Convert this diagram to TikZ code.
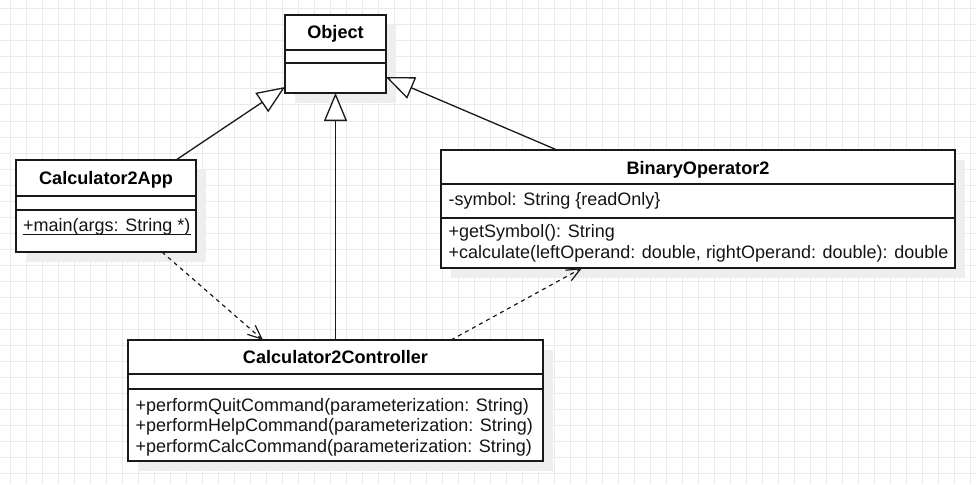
\documentclass[tikz,border=0pt]{standalone}
\usepackage{fontspec}
\setmainfont{Liberation Sans}
\usetikzlibrary{arrows.meta,calc}
\definecolor{gridc}{RGB}{234,234,234}
\definecolor{shadowc}{RGB}{238,238,238}
\definecolor{linec}{RGB}{25,25,25}
\definecolor{textc}{RGB}{20,20,20}
\begin{document}
\begin{tikzpicture}[x=1pt,y=-1pt,
  gridline/.style={draw=gridc, line width=1pt},
  umlbox/.style={draw=linec, fill=white, line width=1.3pt, inner sep=0pt, outer sep=0pt},
  divider/.style={draw=linec, line width=1.3pt},
  txt/.style={inner sep=0pt, anchor=base west, text=textc, font=\fontsize{18}{21}\selectfont},
  hdr/.style={inner sep=0pt, anchor=base, text=black, font=\fontsize{18.1}{21}\selectfont\bfseries},
  gen/.style={draw=linec, line width=1.3pt, -{Triangle[length=28pt,width=23pt,fill=white]}},
  dep/.style={draw=linec, line width=1.2pt, dash pattern=on 4pt off 4pt, -{Straight Barb[length=14pt,width=12pt]}}
]
\useasboundingbox (0,0) rectangle (976,484);
\fill[white] (0,0) rectangle (976,484);
% grid
\foreach \i in {0,...,60} \draw[gridline] (10+16*\i,0) -- (10+16*\i,484);
\foreach \j in {0,...,29} \draw[gridline] (0,9+16*\j) -- (976,9+16*\j);
% shadows
\fill[shadowc] (295,25) rectangle (396,103);
\fill[shadowc] (26,170) rectangle (206,262);
\fill[shadowc] (451,160) rectangle (965,278);
\fill[shadowc] (138,350) rectangle (553,471);
% boxes
\node[umlbox, minimum width=101pt, minimum height=78pt] (obj) at (335.5,54) {};
\node[umlbox, minimum width=180pt, minimum height=92pt] (app) at (106,206) {};
\node[umlbox, minimum width=514pt, minimum height=118pt] (binop) at (698,209) {};
\node[umlbox, minimum width=415pt, minimum height=121pt] (ctrl) at (335.5,400.5) {};
% compartment dividers
\draw[divider] (285,50) -- (386,50);
\draw[divider] (285,63) -- (386,63);
\draw[divider] (16,196) -- (196,196);
\draw[divider] (16,210) -- (196,210);
\draw[divider] (441,184) -- (955,184);
\draw[divider] (441,218) -- (955,218);
\draw[divider] (128,374) -- (543,374);
\draw[divider] (128,389) -- (543,389);
% texts
\node[hdr] (objname) at (335.5,38.5) {Object};
\node[hdr] (appname) at (106,184.3) {Calculator2App};
\node[txt] (appmain) at (23,231.5) {+main(args: String *)};
\draw[line width=1pt, draw=textc] ($(appmain.base west)+(0,2.5)$) -- ($(appmain.base east)+(0,2.5)$);
\node[hdr] (binname) at (698,174) {BinaryOperator2};
\node[txt] (binattr) at (448.5,205) {-symbol: String \{readOnly\}};
\node[txt] (binm1) at (448.5,237.5) {+getSymbol(): String};
\node[txt] (binm2) at (448.5,258) {+calculate(leftOperand: double, rightOperand: double): double};
\node[hdr] (ctrlname) at (335.5,363.5) {Calculator2Controller};
\node[txt] (ctrlm1) at (135.5,411) {+performQuitCommand(parameterization: String)};
\node[txt] (ctrlm2) at (135.5,431.5) {+performHelpCommand(parameterization: String)};
\node[txt] (ctrlm3) at (135.5,452) {+performCalcCommand(parameterization: String)};
% connectors
\draw[gen] ($(app.north west)+(160,0)$) -- ($(obj.south west)+(0,-6)$);
\draw[gen] (ctrl.north) -- (obj.south);
\draw[gen] ($(binop.north west)+(116,0)$) -- ($(obj.south east)+(0,-16)$);
\draw[dep] ($(app.south west)+(146,0)$) -- ($(ctrl.north west)+(135,0)$);
\draw[dep] ($(ctrl.north west)+(323,0)$) -- ($(binop.south west)+(141,0)$);
\end{tikzpicture}
\end{document}
